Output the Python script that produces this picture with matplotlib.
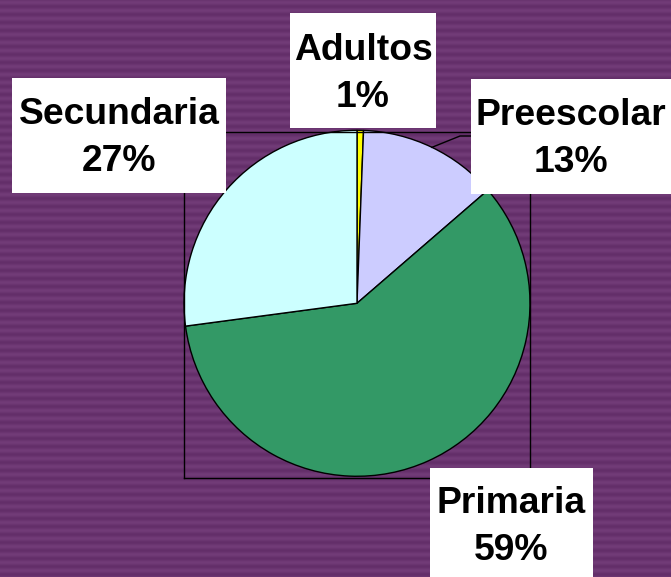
import matplotlib
matplotlib.use('Agg')

import numpy as np
import matplotlib.pyplot as plt
from matplotlib.patches import Rectangle
from matplotlib.lines import Line2D
from matplotlib.colors import LinearSegmentedColormap

plt.rcParams['font.family'] = ['Liberation Sans', 'DejaVu Sans']

labels = ['Adultos', 'Preescolar', 'Primaria', 'Secundaria']
values = [0.6, 13, 59, 27]           # slice sizes
pct_labels = ['1%', '13%', '59%', '27%']
colors = ['#ffff00', '#ccccff', '#339966', '#ccffff']

W, H = 671, 577
fig = plt.figure(figsize=(W / 100, H / 100), dpi=100)

# striped purple background
bg = fig.add_axes([0, 0, 1, 1])
rows = np.arange(H)
stripe = (0.5 + 0.5 * np.sin(2 * np.pi * rows / 8.0))[:, None] * np.ones((1, 4))
cmap = LinearSegmentedColormap.from_list('stripes', ['#632e69', '#723c78'])
bg.imshow(stripe, cmap=cmap, aspect='auto', extent=(0, W, H, 0), interpolation='bilinear')
bg.set_xlim(0, W)
bg.set_ylim(H, 0)
bg.axis('off')

def px(x0, y0, x1, y1):
    return [x0 / W, 1 - y1 / H, (x1 - x0) / W, (y1 - y0) / H]

# plot area with thin black frame
ax = fig.add_axes(px(184, 132, 530, 478))
wedges, _ = ax.pie(values, colors=colors, startangle=90, counterclock=False,
                   radius=1.0, wedgeprops=dict(edgecolor='black', linewidth=1.0))
ax.set_frame_on(True)
ax.patch.set_visible(False)
ax.set_xlim(-1.0, 1.0)
ax.set_ylim(-1.01, 0.99)
ax.set_xticks([])
ax.set_yticks([])
for s in ax.spines.values():
    s.set_visible(True)
    s.set_color('black')
    s.set_linewidth(1.0)

# leader line for Preescolar
w = wedges[1]
mid = np.deg2rad((w.theta1 + w.theta2) / 2)
p0 = ax.transData.transform((np.cos(mid), np.sin(mid)))
p0 = fig.transFigure.inverted().transform(p0)
xs = [p0[0], 460 / W, 472 / W]
ys = [p0[1], 1 - 136 / H, 1 - 136 / H]
fig.add_artist(Line2D(xs, ys, color='black', linewidth=1.0))

# label boxes
boxes = {
    'Adultos': (290, 13, 436, 128),
    'Preescolar': (471, 79, 690, 194),
    'Primaria': (430, 468, 593, 590),
    'Secundaria': (12, 78, 226, 193),
}
centers = {
    'Adultos': (363, 74),
    'Preescolar': (571, 139),
    'Primaria': (511, 527),
    'Secundaria': (119, 138),
}
for lab, pl in zip(labels, pct_labels):
    x0, y0, x1, y1 = boxes[lab]
    fig.add_artist(Rectangle((x0 / W, 1 - y1 / H), (x1 - x0) / W, (y1 - y0) / H,
                             transform=fig.transFigure, facecolor='white',
                             edgecolor='none', zorder=5))
    cx, cy = centers[lab]
    fig.text(cx / W, 1 - cy / H, f'{lab}\n{pl}', ha='center', va='center',
             fontsize=26.8, fontweight='bold', color='black',
             linespacing=1.42, zorder=6)

fig.savefig('out.png', dpi=100)
